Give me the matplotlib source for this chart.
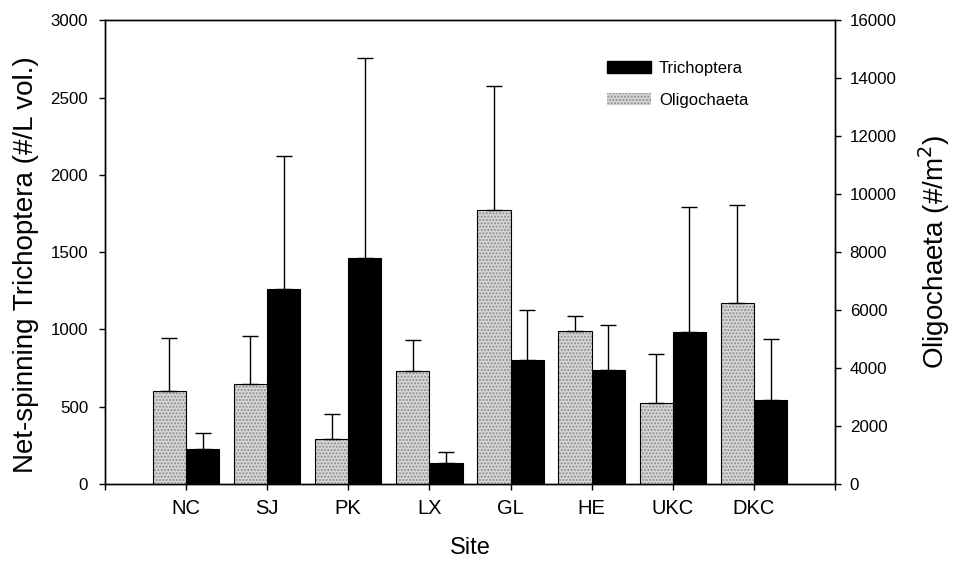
import numpy as np
import matplotlib.pyplot as plt
from matplotlib.patches import Patch

plt.rcParams['font.family'] = ['Liberation Sans', 'DejaVu Sans']

sites = ['NC', 'SJ', 'PK', 'LX', 'GL', 'HE', 'UKC', 'DKC']

# Net-spinning Trichoptera (#/L vol.), left axis
tricho = [226, 1265, 1463, 134, 800, 741, 985, 543]
tricho_err = [104, 860, 1293, 71, 323, 291, 804, 396]

# Oligochaeta (#/m2), right axis
oligo = [3217, 3459, 1540, 3908, 9471, 5276, 2805, 6230]
oligo_err = [1817, 1667, 862, 1058, 4253, 517, 1678, 3390]

x = np.arange(1, len(sites) + 1)
w = 0.41
gray = '#d6d6d6'
stipple = '#8c8c8c'

fig, ax = plt.subplots(figsize=(9.61, 5.61), dpi=100)
fig.subplots_adjust(left=0.109, right=0.869, top=0.964, bottom=0.137)
ax2 = ax.twinx()

# Trichoptera - black bars to the right of each site tick
ax.bar(x + w / 2, tricho, width=w, color='black', edgecolor='black',
       linewidth=0.8, zorder=2)
ax.errorbar(x + w / 2, tricho, yerr=[np.zeros(len(x)), tricho_err], fmt='none',
            ecolor='black', elinewidth=1, capsize=6, capthick=1, zorder=3)

# Oligochaeta - stippled gray bars to the left
ax2.bar(x - w / 2, oligo, width=w, color=gray, edgecolor=stipple,
        hatch='.....', linewidth=0, zorder=2)
ax2.bar(x - w / 2, oligo, width=w, fill=False, edgecolor='black',
        linewidth=0.8, zorder=3)
ax2.errorbar(x - w / 2, oligo, yerr=[np.zeros(len(x)), oligo_err], fmt='none',
             ecolor='black', elinewidth=1, capsize=6, capthick=1, zorder=4)

ax.set_xlim(0, 9)
ax.set_ylim(0, 3000)
ax2.set_ylim(0, 16000)

ax.set_xticks(np.arange(0, 10))
ax.set_xticklabels([''] + sites + [''])
ax.set_yticks(np.arange(0, 3001, 500))
ax2.set_yticks(np.arange(0, 16001, 2000))

ax.tick_params(axis='x', direction='out', length=4.5, width=1, pad=6.5, labelsize=14.5)
ax.tick_params(axis='y', direction='out', length=4.5, width=1, pad=7.5, labelsize=12.2)
ax2.tick_params(axis='y', direction='out', length=4.5, width=1, pad=6, labelsize=12.2)

ax.set_xlabel('Site', fontsize=17, labelpad=13.5)
ax.set_ylabel('Net-spinning Trichoptera (#/L vol.)', fontsize=20, labelpad=8)
ax.yaxis.label.set_y(0.474)
ax2.set_ylabel('Oligochaeta (#/m$^2$)', fontsize=20, labelpad=14)

for a in (ax, ax2):
    for s in a.spines.values():
        s.set_linewidth(1)

handles = [Patch(facecolor='black', edgecolor='black', label='Trichoptera'),
           Patch(facecolor=gray, edgecolor=stipple, hatch='.....',
                 linewidth=0, label='Oligochaeta')]
ax2.legend(handles=handles, loc='upper left', bbox_to_anchor=(0.688, 0.912),
           frameon=False, fontsize=12, handlelength=2.6, handleheight=0.75,
           handletextpad=0.5, labelspacing=1.03, borderpad=0, borderaxespad=0)

plt.savefig('out.png', dpi=100)
